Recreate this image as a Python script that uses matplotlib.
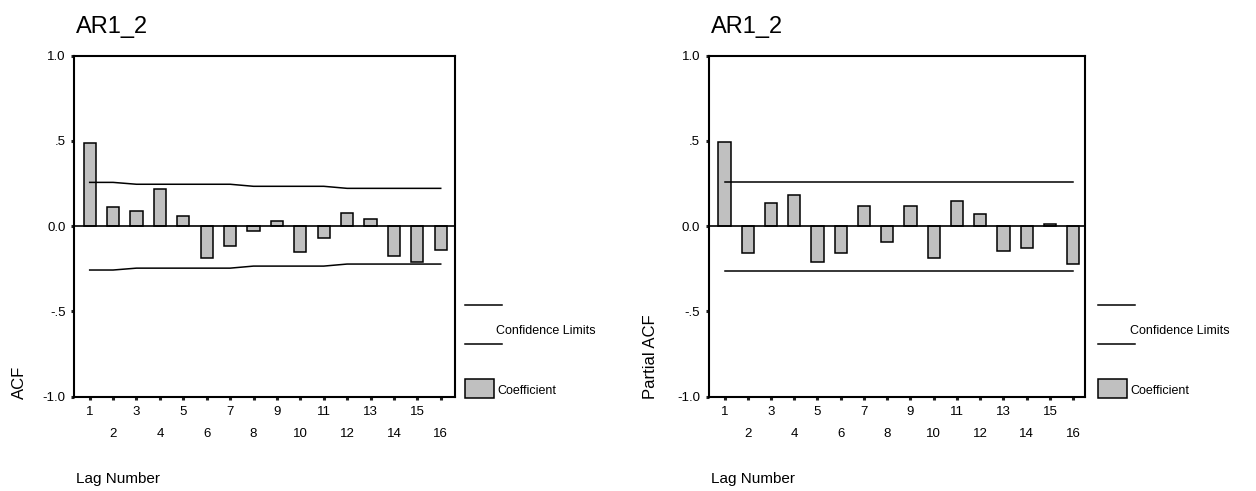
import numpy as np
import matplotlib
matplotlib.use("Agg")
import matplotlib.pyplot as plt
from matplotlib.lines import Line2D
from matplotlib.patches import Rectangle

plt.rcParams['font.family'] = ['Liberation Sans', 'DejaVu Sans']

# autocorrelations of AR1_2, lags 1..16
lags = np.arange(1, 17)
acf = [0.49, 0.115, 0.09, 0.216, 0.057, -0.187, -0.117, -0.027,
       0.033, -0.152, -0.072, 0.08, 0.045, -0.173, -0.209, -0.138]
acf_limit = [0.257, 0.257, 0.246, 0.246, 0.246, 0.246, 0.246, 0.234,
             0.234, 0.234, 0.234, 0.222, 0.222, 0.222, 0.222, 0.222]
pacf = [0.491, -0.16, 0.138, 0.185, -0.209, -0.16, 0.117, -0.092,
        0.117, -0.185, 0.15, 0.07, -0.148, -0.129, 0.012, -0.22]
pacf_limit = [0.262] * 16

yticks = [1.0, 0.5, 0.0, -0.5, -1.0]
ytick_labels = ["1.0", ".5", "0.0", "-.5", "-1.0"]
series_name = "AR1_2"

W, H = 1256, 491
fig = plt.figure(figsize=(W / 100, H / 100), dpi=100)


def fx(px):
    return px / W


def fy(py):
    return 1 - py / H


def draw_panel(left, right, xlim, values, limits, ylabel, ylabel_x, leg_x):
    top, bottom = 55.7, 396.7
    ax = fig.add_axes([fx(left), fy(bottom), fx(right - left), (bottom - top) / H])
    ax.bar(lags, values, width=0.52, color='#c0c0c0', edgecolor='black',
           linewidth=1.1, zorder=2)
    lim = np.array(limits)
    ax.plot(lags, lim, color='black', lw=1.1, zorder=3)
    ax.plot(lags, -lim, color='black', lw=1.1, zorder=3)
    ax.axhline(0, color='black', lw=1.2, zorder=3)
    ax.set_xlim(*xlim)
    ax.set_ylim(-1, 1)

    ax.set_yticks(yticks)
    ax.set_yticklabels(ytick_labels)
    ax.set_xticks(lags[::2])
    ax.set_xticklabels([str(v) for v in lags[::2]])
    ax.set_xticks(lags[1::2], minor=True)
    ax.set_xticklabels([str(v) for v in lags[1::2]], minor=True)
    ax.tick_params(axis='both', which='both', length=2.2, width=2.2,
                   direction='out', labelsize=9.5, color='#202020')
    ax.tick_params(axis='x', which='major', pad=4.3)
    ax.tick_params(axis='x', which='minor', pad=20.5)
    ax.tick_params(axis='y', pad=4.0)
    for sp in ax.spines.values():
        sp.set_linewidth(1.5)

    # titles and labels
    fig.text(fx(left + 2), fy(32.5), series_name, fontsize=17, va='baseline')
    fig.text(fx(left + 2), fy(483.3), "Lag Number", fontsize=11, va='baseline')
    fig.text(fx(ylabel_x), fy(399), ylabel, fontsize=12, rotation=90,
             ha='center', va='bottom')

    # legend block to the right of the frame
    for ly in (305, 344):
        fig.add_artist(Line2D([fx(leg_x), fx(leg_x + 37)], [fy(ly), fy(ly)],
                              color='black', lw=1.1))
    fig.text(fx(leg_x + 32), fy(331), "Confidence Limits", fontsize=9,
             va='center')
    fig.add_artist(Rectangle((fx(leg_x), fy(398)), fx(29), 19 / H,
                             facecolor='#c0c0c0', edgecolor='black', lw=1.1))
    fig.text(fx(leg_x + 32.5), fy(391.5), "Coefficient", fontsize=9,
             va='center')
    return ax


draw_panel(74, 455, (0.33, 16.61), acf, acf_limit, "ACF", 19, 464.5)
draw_panel(708.7, 1085.3, (0.32, 16.52), pacf, pacf_limit, "Partial ACF", 650, 1097.5)

fig.savefig("out.png", dpi=100)
